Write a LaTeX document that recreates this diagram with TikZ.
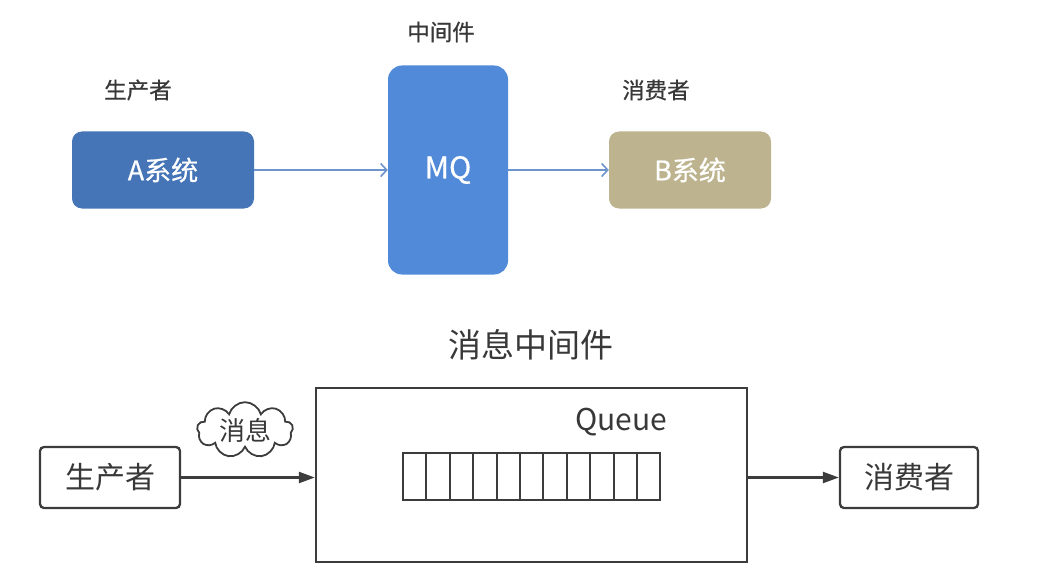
\documentclass[tikz,border=0pt]{standalone}
\usepackage{fontspec}
\setmainfont{Noto Sans CJK SC}
\newfontfamily\semibold{Noto Sans CJK SC}[FakeBold=0.6]
\usetikzlibrary{arrows.meta,shapes.symbols}
\definecolor{ablue}{HTML}{4575B6}
\definecolor{mqblue}{HTML}{518AD8}
\definecolor{bkhaki}{HTML}{BDB48F}
\definecolor{arrblue}{HTML}{6E94CE}
\definecolor{txtgray}{HTML}{383838}
\definecolor{linegray}{HTML}{3C3C3C}
\tikzset{
  sysbox/.style={rounded corners=10pt, inner sep=0pt, text=white, font=\semibold\fontsize{27}{30}\selectfont},
  toplabel/.style={text=txtgray, font=\semibold\fontsize{22.5}{25}\selectfont, inner sep=0pt},
  toparrow/.style={draw=arrblue, line width=1.6pt, -{Straight Barb[length=6pt,width=13pt,line width=1.6pt]}},
  plainbox/.style={draw=linegray, line width=2.3pt, rounded corners=4pt, text=txtgray, font=\fontsize{30}{32}\selectfont, inner sep=0pt},
  blackarrow/.style={draw=linegray, line width=2.3pt, -{Triangle[length=16pt,width=11pt]}},
  cell/.style={draw=linegray, line width=2.1pt, minimum width=23.4pt, minimum height=47pt, inner sep=0pt, outer sep=0pt}
}
\begin{document}
\begin{tikzpicture}[x=1pt,y=-1pt]
\useasboundingbox (0,0) rectangle (1063,575);
% top part
\node[sysbox, fill=ablue, minimum width=182pt, minimum height=77pt] (A) at (163,170) {A系统};
\node[sysbox, fill=mqblue, rounded corners=14pt, minimum width=120pt, minimum height=209pt, font=\semibold\fontsize{30}{32}\selectfont] (MQ) at (448,170) {MQ};
\node[sysbox, fill=bkhaki, minimum width=162pt, minimum height=77pt] (B) at (690,170) {B系统};
\node[toplabel] (lp) at (138,90) {生产者};
\node[toplabel] (lm) at (441,32) {中间件};
\node[toplabel] (lc) at (656,90) {消费者};
\draw[toparrow] (A.east) -- (MQ.west);
\draw[toparrow] (MQ.east) -- (B.west);
% bottom part
\node[text=txtgray, font=\fontsize{33}{36}\selectfont, inner sep=0pt] (title) at (531,345) {消息中间件};
\node[draw=linegray, line width=2.3pt, minimum width=431pt, minimum height=174pt, inner sep=0pt] (box) at (531.5,475) {};
\node[plainbox, minimum width=140pt, minimum height=61pt] (prod) at (110,477.5) {生产者};
\node[plainbox, minimum width=138pt, minimum height=61pt] (cons) at (909,477.5) {消费者};
\node[text=txtgray, font=\fontsize{30}{33}\selectfont, inner sep=0pt] (q) at (621,422) {Queue};
\foreach \i in {0,...,10} {
  \node[cell] (c\i) at ({403+11.7+23.4*\i},476.5) {};
}
\node[cloud, cloud puffs=9, aspect=1.9, draw=linegray, line width=1.8pt, text=txtgray, font=\fontsize{26}{28}\selectfont, inner sep=0pt, minimum width=96pt, minimum height=54pt] (msg) at (245,430) {消息};
\draw[blackarrow] (prod.east) -- (box.west |- prod.east);
\coordinate (boxout) at (box.east |- cons.west);
\draw[blackarrow] (boxout) -- (cons.west);
\end{tikzpicture}
\end{document}
